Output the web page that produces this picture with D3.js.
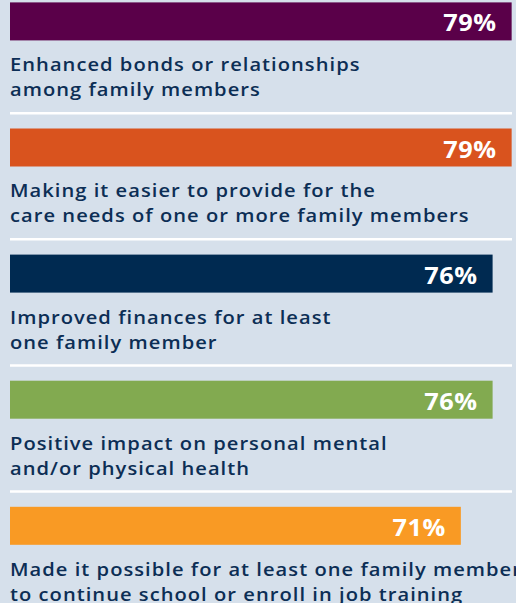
<!DOCTYPE html>
<html>
<head>
<meta charset="utf-8">
<script src="https://cdn.jsdelivr.net/npm/d3@7"></script>
<style>
  html, body { margin: 0; padding: 0; background: #d6e0eb; overflow: hidden; }
  svg { display: block; }
</style>
</head>
<body>
<svg id="chart"></svg>
<script>
'use strict'

// data
const categories = [
	['Enhanced bonds or relationships', 'among family members'],
	['Making it easier to provide for the', 'care needs of one or more family members'],
	['Improved finances for at least', 'one family member'],
	['Positive impact on personal mental', 'and/or physical health'],
	['Made it possible for at least one family member', 'to continue school or enroll in job training']
]
const values = [79, 79, 76, 76, 71]
const colors = ['#5a0049', '#d9531e', '#002a51', '#82aa50', '#f99a24']

function draw(){
	let width = 516
	let height = 603

	let svg = d3.select('#chart')
		.attr('width', width)
		.attr('height', height)

	let x = d3.scaleLinear()
		.domain([0, 100])
		.range([10, 645])

	let y = d3.scaleBand()
		.domain(d3.range(values.length))
		.range([2.4, 2.4 + 126.1 * values.length])
		.paddingInner(0)

	let barH = 38

	let g = svg.selectAll('g.row')
		.data(values)
		.join('g')
		.attr('class', 'row')
		.attr('transform', (d, i) => `translate(0,${y(i)})`)

	g.append('rect')
		.attr('x', x(0))
		.attr('y', 0)
		.attr('width', d => x(d) - x(0))
		.attr('height', barH)
		.attr('fill', (d, i) => colors[i])

	// value labels, wide bold face imitated with a slight horizontal stretch
	g.append('text')
		.attr('transform', d => `translate(${x(d) - 15},29) scale(1.1,1)`)
		.attr('text-anchor', 'end')
		.attr('fill', '#fff')
		.style('font-family', '"Open Sans", sans-serif')
		.style('font-weight', 700)
		.style('font-size', '23px')
		.style('letter-spacing', '0.5px')
		.text(d => d + '%')

	let lbl = g.append('text')
		.attr('transform', 'translate(10,0) scale(1.15,1)')
		.attr('fill', '#0c2e55')
		.style('font-family', '"Open Sans", sans-serif')
		.style('font-weight', 600)
		.style('font-size', '17.5px')
		.style('letter-spacing', '0.9px')

	lbl.selectAll('tspan')
		.data((d, i) => categories[i])
		.join('tspan')
		.attr('x', 0)
		.attr('y', (d, j) => 69 + j * 25)
		.text(d => d)

	// white rules between rows
	g.filter((d, i) => i < values.length - 1)
		.append('line')
		.attr('x1', 10)
		.attr('x2', 512)
		.attr('y1', 110.8)
		.attr('y2', 110.8)
		.attr('stroke', '#fff')
		.attr('stroke-width', 2.5)
}

draw()
</script>
</body>
</html>
